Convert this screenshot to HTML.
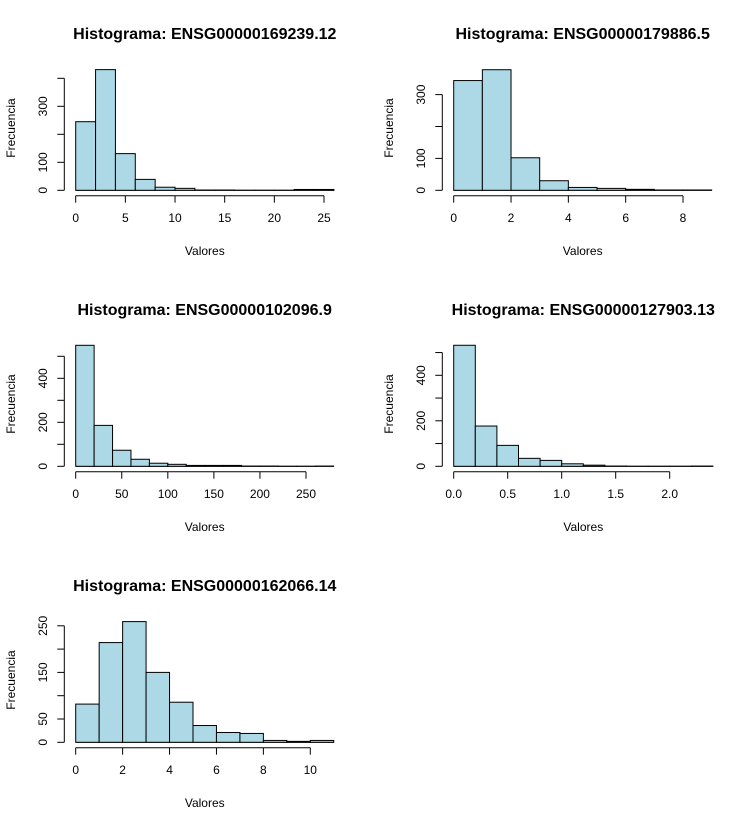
<!DOCTYPE html>
<html><head><meta charset="utf-8"><style>
html,body{margin:0;padding:0;background:#fff;}
svg{display:block;font-family:"Liberation Sans",Arial,sans-serif;}
</style></head><body>
<svg id="c" width="756" height="828" viewBox="0 0 756 828"></svg>
<script>
// Panel 1
const titles = ["Histograma: ENSG00000169239.12","Histograma: ENSG00000179886.5","Histograma: ENSG00000102096.9","Histograma: ENSG00000127903.13","Histograma: ENSG00000162066.14"];
const breaks1 = [0,2,4,6,8,10,12,14,16,18,20,22,24,26];
const counts1 = [245,431,131,39,11,7,1,1,0,0,0,3,3];
const xticks1 = [0,5,10,15,20,25];
const yticks1 = [0,100,200,300,400];
const ylabels1 = ["0","100","","300",""];
// Panel 2
const breaks2 = [0,1,2,3,4,5,6,7,8,9];
const counts2 = [344,378,102,30,9,6,3,1,1];
const xticks2 = [0,2,4,6,8];
const yticks2 = [0,100,200,300];
const ylabels2 = ["0","100","","300"];
// Panel 3
const breaks3 = [0,20,40,60,80,100,120,140,160,180,200,220,240,260,280];
const counts3 = [550,186,73,32,14,9,4,4,4,1,1,0,0,1];
const xticks3 = [0,50,100,150,200,250];
const yticks3 = [0,100,200,300,400,500];
const ylabels3 = ["0","","200","","400",""];
// Panel 4
const breaks4 = [0,0.2,0.4,0.6,0.8,1.0,1.2,1.4,1.6,1.8,2.0,2.2,2.4];
const counts4 = [532,177,92,35,26,11,5,1,0,0,0,1];
const xticks4 = [0,0.5,1,1.5,2];
const xlabels4 = ["0.0","0.5","1.0","1.5","2.0"];
const yticks4 = [0,100,200,300,400,500];
const ylabels4 = ["0","","200","","400",""];
// Panel 5
const breaks5 = [0,1,2,3,4,5,6,7,8,9,10,11];
const counts5 = [82,214,259,150,86,36,21,19,4,2,4];
const xticks5 = [0,2,4,6,8,10];
const yticks5 = [0,50,100,150,200,250];
const ylabels5 = ["0","50","","150","","250"];

const NS="http://www.w3.org/2000/svg";
const svg=document.getElementById('c');
function mk(t,a,p){const e=document.createElementNS(NS,t);for(const k in a)e.setAttribute(k,a[k]);(p||svg).appendChild(e);return e;}

const panels=[
 {ox:0,oy:0,b:breaks1,c:counts1,xt:xticks1,xl:xticks1.map(String),yt:yticks1,yl:ylabels1,x0:75.7,x1:324,xv:25,yp:28},
 {ox:378,oy:0,b:breaks2,c:counts2,xt:xticks2,xl:xticks2.map(String),yt:yticks2,yl:ylabels2,x0:75.7,x1:305,xv:8,yp:31.9},
 {ox:0,oy:276,b:breaks3,c:counts3,xt:xticks3,xl:xticks3.map(String),yt:yticks3,yl:ylabels3,x0:75.7,x1:306,xv:250,yp:22},
 {ox:378,oy:276,b:breaks4,c:counts4,xt:xticks4,xl:xlabels4,yt:yticks4,yl:ylabels4,x0:75.7,x1:291.7,xv:2,yp:22.75},
 {ox:0,oy:552,b:breaks5,c:counts5,xt:xticks5,xl:xticks5.map(String),yt:yticks5,yl:ylabels5,x0:75.7,x1:310.3,xv:10,yp:46.6}
];
panels.forEach((p,i)=>{
  const g=mk('g',{transform:`translate(${p.ox},${p.oy})`});
  
  
  const y0=190.3;
  const sx=v=>p.x0+(v/p.xv)*(p.x1-p.x0);
  const sy=v=>y0-v*p.yp/100;
  const xmin=p.b[0], xmax=p.b[p.b.length-1], pad=(xmax-xmin)*0.04;
  const cx=(sx(xmin-pad)+sx(xmax+pad))/2;
  const t=mk('text',{x:cx,y:39,'text-anchor':'middle','font-size':'16','font-weight':'bold',fill:'#000'},g);
  t.textContent=titles[i];
  
  
  // baseline (zero-height bars still show their border)
  mk('line',{x1:sx(xmin),x2:sx(xmax),y1:y0,y2:y0,stroke:'#000'},g);
  for(let j=0;j<p.c.length;j++){
    const r=mk('rect',{x:sx(p.b[j]),y:sy(p.c[j]),width:sx(p.b[j+1])-sx(p.b[j]),height:Math.max(0.01,y0-sy(p.c[j])),fill:'#add8e6',stroke:'#000','stroke-width':'1'},g);
    
    
  }
  const xa=mk('g',{},g);
  
  
  const ay=195.7;
  mk('line',{x1:sx(p.xt[0]),x2:sx(p.xt[p.xt.length-1]),y1:ay,y2:ay,stroke:'#000'},xa);
  p.xt.forEach((v,k)=>{
    mk('line',{x1:sx(v),x2:sx(v),y1:ay,y2:ay+7,stroke:'#000'},xa);
    const tl=mk('text',{x:sx(v),y:222,'text-anchor':'middle','font-size':'12',fill:'#000'},xa);
    tl.textContent=p.xl[k];
    
    
  });
  const xt=mk('text',{x:cx,y:255,'text-anchor':'middle','font-size':'12',fill:'#000'},g);
  xt.textContent='Valores';
  
  
  const ya=mk('g',{},g);
  
  
  const ax=64.3;
  mk('line',{x1:ax,x2:ax,y1:sy(p.yt[0]),y2:sy(p.yt[p.yt.length-1]),stroke:'#000'},ya);
  p.yt.forEach((v,k)=>{
    mk('line',{x1:ax-7,x2:ax,y1:sy(v),y2:sy(v),stroke:'#000'},ya);
    if(p.yl[k]){
      const tl=mk('text',{x:0,y:0,transform:`translate(47,${sy(v)}) rotate(-90)`,'text-anchor':'middle','font-size':'12',fill:'#000'},ya);
      tl.textContent=p.yl[k];
      
      
    }
  });
  const yt=mk('text',{x:0,y:0,transform:`translate(15,128) rotate(-90)`,'text-anchor':'middle','font-size':'12',fill:'#000'},g);
  yt.textContent='Frecuencia';
  
  
});
</script>
</body></html>
